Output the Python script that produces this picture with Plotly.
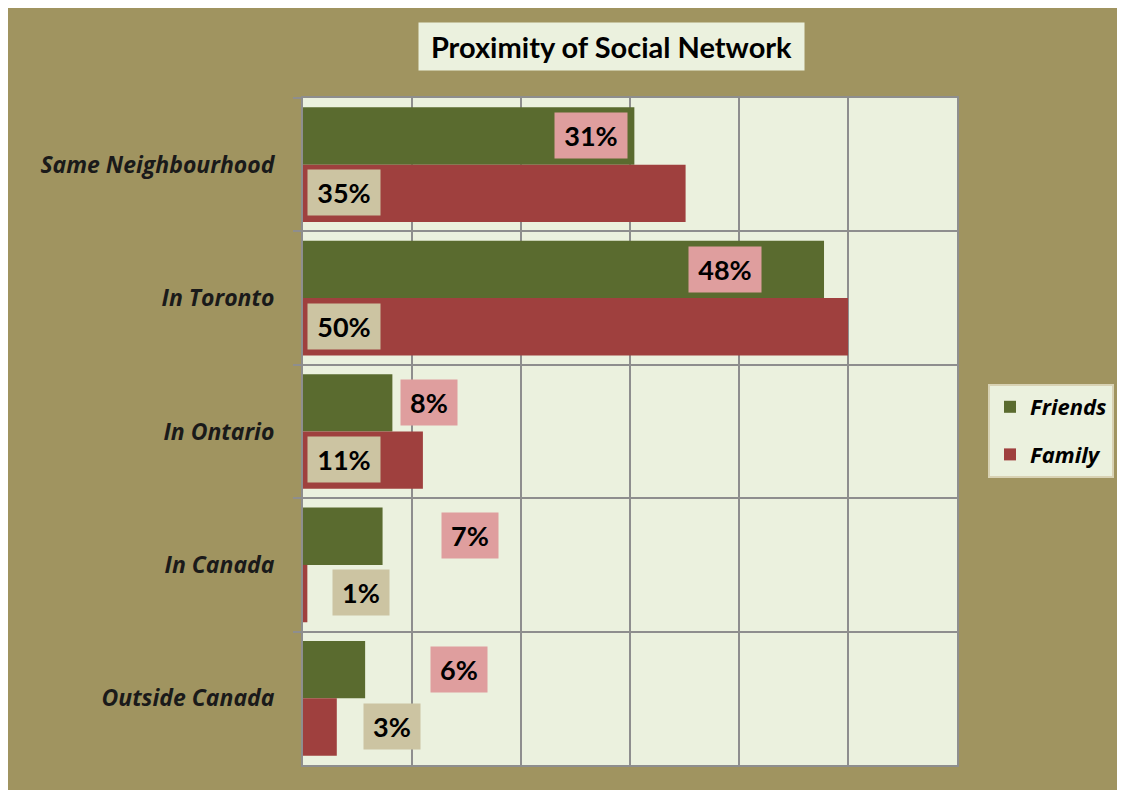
import plotly.graph_objects as go

categories = ["Same Neighbourhood", "In Toronto", "In Ontario", "In Canada", "Outside Canada"]
# bar lengths as drawn in the picture (labels are the rounded survey figures)
friends = [30.4, 47.8, 8.2, 7.3, 5.7]
family = [35.1, 50.0, 11.0, 0.4, 3.1]
friends_labels = ["31%", "48%", "8%", "7%", "6%"]
family_labels = ["35%", "50%", "11%", "1%", "3%"]
# where the (hand-dragged) data labels sit, in axis units
friends_label_x = [26.4, 38.7, 11.6, 15.3, 14.3]
family_label_x = [3.8, 3.8, 3.8, 5.3, 8.2]

OLIVE = "#A09460"
PANEL = "#EBF1DE"
GREEN = "#5A6B2F"
RED = "#9F403E"
PINK = "#DF9E9E"
TAN = "#CCC4A2"
GRID = "#8E8E8E"
FONT = "Lato"
FONT2 = "Open Sans"

# page has an 8px body margin, so the figure is a bit smaller than the window
W, H = 1117, 782
L, R, T, B = 295, 167, 90, 25
PW, PH = W - L - R, H - T - B


def px(x):
    return (x - L) / PW


def py(y):
    return (H - B - y) / PH


fig = go.Figure()
fig.add_trace(go.Bar(name="Friends", y=categories, x=friends, orientation="h",
                     marker=dict(color=GREEN, line=dict(width=0)), legendgroup="a"))
fig.add_trace(go.Bar(name="Family", y=categories, x=family, orientation="h",
                     marker=dict(color=RED, line=dict(width=0)), legendgroup="b"))

anns = []
for cat, lab, lx in zip(categories, friends_labels, friends_label_x):
    anns.append(dict(x=lx, y=cat, text="<b>%s</b>" % lab, showarrow=False, yshift=29,
                     bgcolor=PINK, borderpad=5, width=62 if len(lab) > 2 else 46, height=35,
                     font=dict(family=FONT, size=27, color="black")))
for cat, lab, lx in zip(categories, family_labels, family_label_x):
    anns.append(dict(x=lx, y=cat, text="<b>%s</b>" % lab, showarrow=False, yshift=-28,
                     bgcolor=TAN, borderpad=5, width=62 if len(lab) > 2 else 46, height=35,
                     font=dict(family=FONT, size=27, color="black")))

# title box
anns.append(dict(xref="paper", yref="paper", x=px(604), y=py(39),
                 xanchor="center", yanchor="middle",
                 text="<b>Proximity of Social Network</b>", showarrow=False,
                 bgcolor=PANEL, borderpad=5, width=375, height=37,
                 font=dict(family=FONT, size=29, color="black")))

fig.update_layout(
    width=W, height=H,
    paper_bgcolor=OLIVE, plot_bgcolor=PANEL,
    margin=dict(l=L, r=R, t=T, b=B),
    barmode="group", bargap=0.14, bargroupgap=0,
    annotations=anns,
    showlegend=True,
    legend=dict(x=px(980), y=py(376), xanchor="left", yanchor="top",
                bgcolor=PANEL, bordercolor="#D8D2B4", borderwidth=2,
                tracegroupgap=16, itemwidth=30,
                font=dict(family=FONT2, size=22, color="black", style="italic", weight="bold")),
)
fig.update_xaxes(range=[0, 60], dtick=10, showticklabels=False, showgrid=True,
                 gridcolor=GRID, gridwidth=2, showline=True, linecolor=GRID, linewidth=2,
                 mirror=True, zeroline=False, fixedrange=True)
fig.update_yaxes(categoryorder="array", categoryarray=categories, autorange="reversed",
                 tickson="boundaries", ticks="outside", ticklen=8, tickcolor=GRID, tickwidth=2,
                 showgrid=True, gridcolor=GRID, gridwidth=2,
                 showline=True, linecolor=GRID, linewidth=2, mirror=True,
                 ticklabelstandoff=22,
                 tickfont=dict(family=FONT2, size=23, color="#1a1a1a", style="italic", weight="bold"))

fig.write_html("out.html")
